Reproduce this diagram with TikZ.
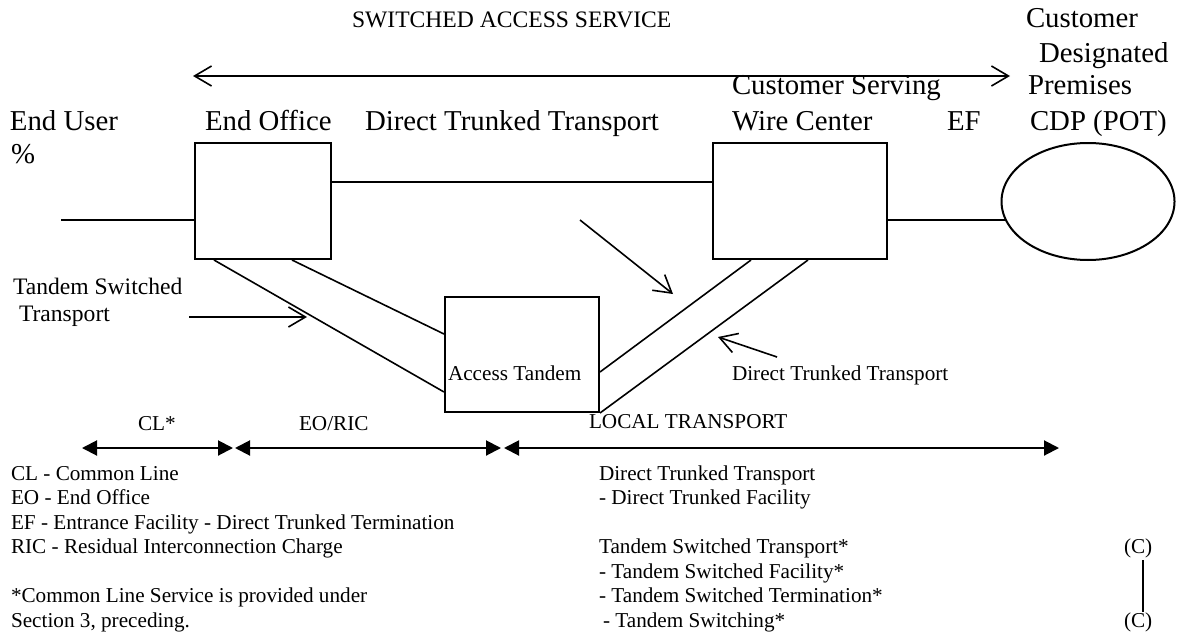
\documentclass[tikz,border=0pt]{standalone}
\usepackage{fontspec}
\setmainfont{Liberation Serif}
\usetikzlibrary{shapes.geometric,arrows.meta,calc}
\newcommand\szL{\fontsize{14.4}{17}\selectfont}
\newcommand\szM{\fontsize{11.8}{14}\selectfont}
\newcommand\szS{\fontsize{10.6}{12.2}\selectfont}
\begin{document}
\begin{tikzpicture}[x=0.5pt,y=-0.5pt,
  lbl/.style={inner sep=0pt, outer sep=0pt, anchor=base west},
  big/.style={lbl,font=\szL},
  mid/.style={lbl,font=\szM},
  small/.style={lbl,font=\szS},
  boxn/.style={draw, line width=1pt, inner sep=0pt, rectangle},
  wire/.style={line width=0.8pt},
  openarr/.style={line width=0.8pt, -{Straight Barb[length=8.5pt,width=10pt]}},
  span/.style={line width=1pt, {Triangle[length=7.5pt,width=7.5pt]}-{Triangle[length=7.5pt,width=7.5pt]}}]
\useasboundingbox (0,0) rectangle (1186,631);

% boxes
\node[boxn, minimum width=68pt, minimum height=58pt] (eo) at (263,201) {};
\node[boxn, minimum width=87pt, minimum height=58pt] (cswc) at (800,201) {};
\node[boxn, minimum width=77pt, minimum height=57.5pt] (at) at (522,354.5) {};
\node[draw, ellipse, line width=1pt, inner sep=0pt, minimum width=86.5pt, minimum height=58.5pt] (cdp) at (1088,201.5) {};

% connectors
\coordinate (eu) at (61,220);
\draw[wire] (eu) -- (eu -| eo.west);
\draw[wire] ($(eo.east)+(0,-19)$) -- ($(cswc.west)+(0,-19)$);
\coordinate (cs) at ($(cswc.east)+(0,19)$);
\draw[wire] (cs) -- (cs -| cdp.192.7);
\draw[wire] ($(eo.south west)+(20,0)$) -- ($(at.north west)+(0,96)$);
\draw[wire] ($(eo.south west)+(98,0)$) -- ($(at.north west)+(0,38)$);
\draw[wire] ($(at.north east)+(0,76)$) -- ($(cswc.south west)+(39,0)$);
\draw[wire] (at.south east) -- ($(cswc.south west)+(96,0)$);

% pointer arrows
\coordinate (tl) at (193,76);
\coordinate (tr) at (1010,76);
\draw[line width=0.8pt, {Straight Barb[length=8.5pt,width=10pt]}-{Straight Barb[length=8.5pt,width=10pt]}] (tl) -- (tr);
\coordinate (ts0) at (189,317);
\coordinate (ts1) at (307,317);
\draw[openarr] (ts0) -- (ts1);
\coordinate (dg0) at (580,220);
\coordinate (dg1) at (673,294);
\draw[openarr] (dg0) -- (dg1);
\coordinate (dt0) at (777,357);
\coordinate (dt1) at (718,337);
\draw[openarr] (dt0) -- (dt1);

% span arrows
\coordinate (s0) at (82,448);
\coordinate (s1) at (233,448);
\coordinate (s2) at (235,448);
\coordinate (s3) at (501,448);
\coordinate (s4) at (504,448);
\coordinate (s5) at (1059,448);
\draw[span] (s0) -- (s1);
\draw[span] (s2) -- (s3);
\draw[span] (s4) -- (s5);

% top labels
\node[mid] (sas) at (352,28) {SWITCHED ACCESS SERVICE};
\node[big] (cu1) at (1026,28) {Customer};
\node[big] (cu2) at (1039,62) {Designated};
\node[big] (cu3) at (1028,95) {Premises};
\node[big] (cu4) at (1030,130) {CDP (POT)};
\node[big] (cs1) at (732,95) {Customer Serving};
\node[big] (cs2) at (732,130) {Wire Center};
\node[big] (ef) at (947,130) {EF};
\node[big] (eul) at (10,130) {End User};
\node[big] (pct) at (11,163) {\%};
\node[big] (eol) at (205,130) {End Office};
\node[big] (dtl) at (365,130) {Direct Trunked Transport};

% middle labels
\node[mid] (tst1) at (13,294) {Tandem Switched};
\node[mid] (tst2) at (19,321) {Transport};
\node[small] (atl) at (448,380) {Access Tandem};
\node[small] (dts) at (732,380) {Direct Trunked Transport};
\node[small] (cll) at (138,430) {CL*};
\node[small] (eor) at (299,430) {EO/RIC};
\node[small] (ltr) at (589,428) {LOCAL TRANSPORT};

% legend left
\node[small] (l1) at (11,480) {CL - Common Line};
\node[small] (l2) at (11,504.5) {EO - End Office};
\node[small] (l3) at (11,529) {EF - Entrance Facility - Direct Trunked Termination};
\node[small] (l4) at (11,553.5) {RIC - Residual Interconnection Charge};
\node[small] (l5) at (11,602.5) {*Common Line Service is provided under};
\node[small] (l6) at (11,627) {Section 3, preceding.};

% legend right
\node[small] (r1) at (599,480) {Direct Trunked Transport};
\node[small] (r2) at (599,504.5) {- Direct Trunked Facility};
\node[small] (r3) at (599,553.5) {Tandem Switched Transport*};
\node[small] (r4) at (599,578) {- Tandem Switched Facility*};
\node[small] (r5) at (599,602.5) {- Tandem Switched Termination*};
\node[small] (r6) at (603,627) {- Tandem Switching*};
\node[small] (c1) at (1124,553.5) {(C)};
\node[small] (c2) at (1124,627) {(C)};
\coordinate (cb0) at (1143,560);
\coordinate (cb1) at (1143,612);
\draw[line width=1pt] (cb0) -- (cb1);
\end{tikzpicture}
\end{document}
